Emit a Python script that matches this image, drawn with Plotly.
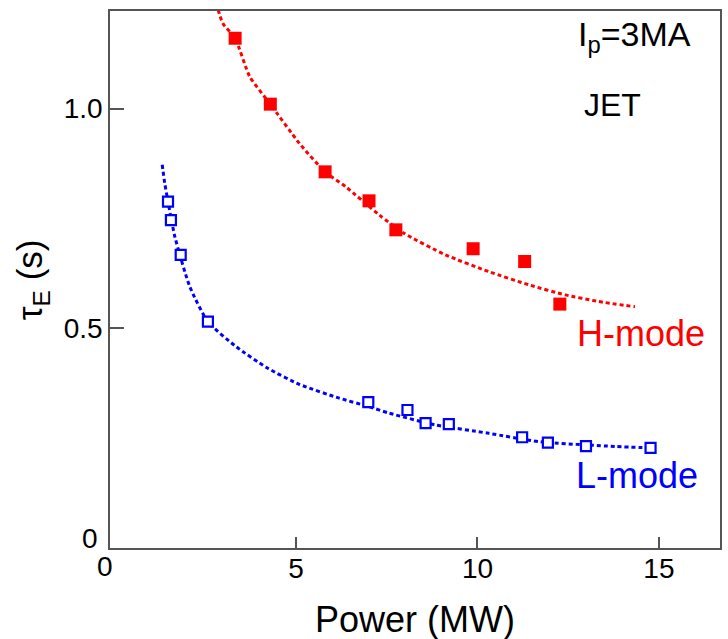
import plotly.graph_objects as go

# H-mode data (filled red squares)
h_power = [3.32, 4.29, 5.80, 7.01, 7.75, 9.88, 11.30, 12.27]
h_tau = [1.160, 1.010, 0.856, 0.790, 0.724, 0.681, 0.652, 0.555]

# L-mode data (open blue squares)
l_power = [1.47, 1.55, 1.82, 2.57, 6.99, 8.07, 8.57, 9.21, 11.23, 11.94, 12.99, 14.77]
l_tau = [0.788, 0.746, 0.667, 0.515, 0.332, 0.314, 0.284, 0.282, 0.252, 0.240, 0.232, 0.228]

# fitted curves
h_fit_power = [2.80, 2.98, 3.32, 3.72, 4.29, 5.09, 5.80, 6.37, 7.29, 7.98, 9.12, 10.31, 11.41, 12.42, 13.33, 14.34]
h_fit_tau = [1.24, 1.194, 1.160, 1.073, 1.010, 0.921, 0.856, 0.822, 0.758, 0.716, 0.667, 0.629, 0.599, 0.576, 0.561, 0.549]

l_fit_power = [1.31, 1.38, 1.47, 1.66, 2.07, 2.57, 3.35, 4.2, 5.1, 6.19, 6.99, 7.56, 8.85, 10.31, 11.69, 13.79, 14.77]
l_fit_tau = [0.872, 0.830, 0.788, 0.708, 0.595, 0.515, 0.458, 0.410, 0.372, 0.341, 0.322, 0.307, 0.280, 0.261, 0.242, 0.231, 0.228]

x_ticks = [5, 10, 15]
y_ticks = [0.5, 1.0]
y_tick_text = ["0.5", "1.0"]

RED = "#ff0000"
BLUE = "#0000ff"
FONT = "Liberation Sans, Arial, sans-serif"

fig = go.Figure()
fig.add_trace(go.Scatter(x=h_fit_power, y=h_fit_tau, mode="lines",
                         line=dict(color=RED, width=3, dash="4px,3px", shape="spline", smoothing=0.6),
                         hoverinfo="skip"))
fig.add_trace(go.Scatter(x=l_fit_power, y=l_fit_tau, mode="lines",
                         line=dict(color=BLUE, width=3, dash="4px,3px", shape="spline", smoothing=0.6),
                         hoverinfo="skip"))
fig.add_trace(go.Scatter(x=h_power, y=h_tau, mode="markers",
                         marker=dict(symbol="square", size=13, color=RED, line=dict(width=0))))
fig.add_trace(go.Scatter(x=l_power, y=l_tau, mode="markers",
                         marker=dict(symbol="square", size=10, color="white", line=dict(width=2.2, color=BLUE))))

axis_common = dict(showgrid=False, zeroline=False, showline=True, linecolor="#555555", linewidth=1.5,
                   mirror=True, ticks="inside", tickcolor="#555555", tickwidth=1.5,
                   tickfont=dict(family=FONT, size=28, color="black"))

fig.update_xaxes(range=[-0.129, 16.684], tickvals=x_ticks, ticklen=11, ticklabelstandoff=-5, **axis_common)
fig.update_yaxes(range=[0, 1.222], tickvals=y_ticks, ticktext=y_tick_text, ticklen=14, **axis_common)

annotations = [
    dict(x=14.50, y=0.489, xref="x", yref="y", text="H-mode", showarrow=False,
         font=dict(family=FONT, size=36, color=RED), xanchor="center", yanchor="middle"),
    dict(x=14.40, y=0.164, xref="x", yref="y", text="L-mode", showarrow=False,
         font=dict(family=FONT, size=36, color=BLUE), xanchor="center", yanchor="middle"),
    dict(x=14.32, y=1.165, xref="x", yref="y", text="I<sub>p</sub>=3MA", showarrow=False,
         font=dict(family=FONT, size=34, color="black"), xanchor="center", yanchor="middle"),
    dict(x=13.72, y=1.007, xref="x", yref="y", text="JET", showarrow=False,
         font=dict(family=FONT, size=32, color="black"), xanchor="center", yanchor="middle"),
    dict(x=-0.008, y=-0.035, xref="paper", yref="paper", text="0", showarrow=False,
         font=dict(family=FONT, size=28, color="black"), xanchor="center", yanchor="middle"),
    dict(x=-0.0163, y=0.0186, xref="paper", yref="paper", text="0", showarrow=False,
         font=dict(family=FONT, size=28, color="black"), xanchor="right", yanchor="middle"),
    dict(x=0.5, y=-0.134, xref="paper", yref="paper", text="Power (MW)", showarrow=False,
         font=dict(family=FONT, size=36, color="black"), xanchor="center", yanchor="middle"),
    dict(x=-0.1275, y=0.499, xref="paper", yref="paper", text="τ<sub>E</sub> (s)", showarrow=False,
         textangle=-90, font=dict(family=FONT, size=35, color="black"), xanchor="center", yanchor="middle"),
]

fig.update_layout(width=728, height=639, margin=dict(l=110, r=6, t=11, b=91),
                  paper_bgcolor="white", plot_bgcolor="white", showlegend=False,
                  annotations=annotations)

fig.write_html("out.html")
